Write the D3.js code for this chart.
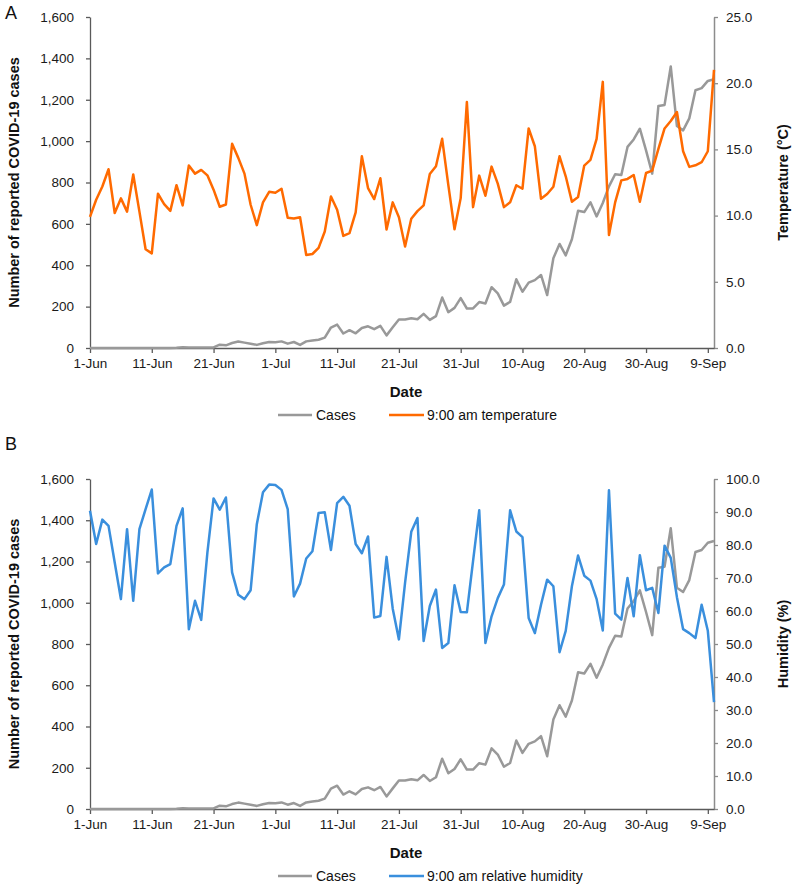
<!DOCTYPE html>
<html><head><meta charset="utf-8">
<script src="https://cdn.jsdelivr.net/npm/d3@7/dist/d3.min.js"></script>
<style>
html,body{margin:0;padding:0;background:#fff;}
svg{display:block;font-family:"Liberation Sans",Arial,sans-serif;}
</style></head>
<body>
<svg id="chart" width="795" height="886"></svg>
<script>
// ---------- DATA ----------
const startDate = new Date(2020, 5, 1);   // 1-Jun
const endDate = new Date(2020, 8, 10);    // 10-Sep
const tickLabels = ["1-Jun","11-Jun","21-Jun","1-Jul","11-Jul","21-Jul","31-Jul","10-Aug","20-Aug","30-Aug","9-Sep"];

const cases = [0,0,0,0,0,0,0,0,0,0,0,0,0,0,1,4,3,2,2,3,
  3,16,13,24,31,26,21,15,23,29,28,32,21,29,15,32,36,40,50,99,
  113,70,86,71,97,105,91,107,61,100,138,138,144,139,165,136,154,244,173,194,
  241,191,191,222,215,294,264,205,223,332,272,316,328,353,256,434,503,448,526,663,
  657,704,636,701,781,840,836,972,1008,1060,955,843,1170,1175,1361,1073,1052,1110,1246,1256,
  1291,1299];

const temperature = [9.9,11.2,12.2,13.5,10.2,11.3,10.3,13.1,10.3,7.46,
  7.15,11.65,10.87,10.36,12.3,10.77,13.78,13.17,13.45,13.04,
  11.96,10.67,10.84,15.42,14.36,13.17,10.82,9.28,11.0,11.8,
  11.73,12.03,9.83,9.78,9.88,7.03,7.1,7.56,8.8,11.45,
  10.44,8.47,8.67,10.24,14.48,12.08,11.25,12.82,8.95,11.0,
  9.88,7.66,9.76,10.34,10.77,13.14,13.73,15.8,12.3,8.97,
  11.32,18.58,10.64,13.02,11.5,13.7,12.41,10.64,11.0,12.29,
  12.03,16.58,15.24,11.27,11.63,12.18,14.48,12.97,11.05,11.4,
  13.78,14.21,15.8,20.1,8.54,11.0,12.66,12.77,13.07,11.05,
  13.22,13.4,15.04,16.58,17.14,17.82,14.86,13.68,13.8,14.03,
  14.86,21.0];

const humidity = [90.4,80.3,87.7,85.8,74.7,63.6,84.8,63.1,84.8,90.9,
  96.8,71.4,73.2,74.2,85.8,91.1,54.5,63.1,57.3,77.7,
  94.1,90.7,94.4,71.7,64.9,63.6,66.3,86.3,96.0,98.3,
  98.2,96.7,90.9,64.4,68.3,75.9,78.1,89.7,89.9,78.5,
  92.7,94.6,91.9,80.3,77.5,82.6,58.0,58.5,76.4,60.7,
  51.4,68.6,84.0,88.2,50.9,61.5,66.5,48.8,50.3,67.8,
  59.7,59.6,75.1,90.5,50.3,58.4,63.9,68.0,90.5,84.1,
  82.4,57.9,53.3,61.9,69.5,67.5,47.5,54.0,67.5,76.8,
  70.7,69.2,63.6,54.1,96.6,59.2,57.4,70.0,58.4,76.9,
  66.3,67.0,59.4,79.8,76.1,64.2,54.5,53.3,51.8,61.9,
  54.0,32.4];

const casesTicks = [0,200,400,600,800,1000,1200,1400,1600];
const tempTicks = [0,5,10,15,20,25];
const humTicks = [0,10,20,30,40,50,60,70,80,90,100];

// ---------- CHART ----------
const dates = d3.timeDay.range(startDate, d3.timeDay.offset(endDate, 1));
const tickDates = tickLabels.map((_, i) => d3.timeDay.offset(startDate, i * 10));

const svg = d3.select("#chart");
const FONT = '"Liberation Sans",Arial,sans-serif';

const panels = [
  { label: "A", top: 17, bottom: 348, right: temperature, rMax: 25, rTicks: tempTicks,
    rColor: "#FF6A00", rTitle: "Temperature (\u00B0C)", legend: "9:00 am temperature", labelY: 19 },
  { label: "B", top: 479, bottom: 809, right: humidity, rMax: 100, rTicks: humTicks,
    rColor: "#3A8FDD", rTitle: "Humidity (%)", legend: "9:00 am relative humidity", labelY: 450 }
];

const x = d3.scaleTime().domain([startDate, endDate]).range([90, 714]);

panels.forEach(p => {
  const g = svg.append("g");
  const y = d3.scaleLinear().domain([0, 1600]).range([p.bottom, p.top]);
  const y2 = d3.scaleLinear().domain([0, p.rMax]).range([p.bottom, p.top]);

  // left axis
  const la = g.append("g").attr("transform", "translate(90,0)")
    .call(d3.axisLeft(y).tickValues(casesTicks).tickFormat(d3.format(",")).tickSize(4).tickPadding(12).tickSizeOuter(0));
  la.select(".domain").attr("stroke", "#5a5a5a").attr("stroke-width", 1.3);
  la.selectAll(".tick line").attr("stroke", "#5a5a5a").attr("stroke-width", 1.3);
  la.selectAll("text").attr("font-size", "13.5px").attr("font-family", FONT).attr("fill", "#1a1a1a");

  // right axis
  const ra = g.append("g").attr("transform", "translate(714,0)")
    .call(d3.axisRight(y2).tickValues(p.rTicks).tickFormat(d3.format(".1f")).tickSize(4).tickPadding(8).tickSizeOuter(0));
  ra.select(".domain").attr("stroke", "#8c8c8c").attr("stroke-width", 1.5);
  ra.selectAll(".tick line").attr("stroke", "#8c8c8c").attr("stroke-width", 1.3);
  ra.selectAll("text").attr("font-size", "13.5px").attr("font-family", FONT).attr("fill", "#1a1a1a");

  // x axis
  const xa = g.append("g").attr("transform", `translate(0,${p.bottom})`)
    .call(d3.axisBottom(x).tickValues(tickDates).tickFormat((d, i) => tickLabels[i]).tickSize(5).tickPadding(5).tickSizeOuter(0));
  xa.select(".domain").attr("stroke", "#5a5a5a").attr("stroke-width", 1.3);
  xa.selectAll(".tick line").attr("stroke", "#5a5a5a").attr("stroke-width", 1.3);
  xa.selectAll("text").attr("font-size", "13.5px").attr("font-family", FONT).attr("fill", "#1a1a1a");

  // lines
  const lineCases = d3.line().x((d, i) => x(dates[i])).y(d => y(d));
  const lineRight = d3.line().x((d, i) => x(dates[i])).y(d => y2(d));
  g.append("path").datum(cases).attr("d", lineCases)
    .attr("fill", "none").attr("stroke", "#999999").attr("stroke-width", 2.5).attr("stroke-linejoin", "round");
  g.append("path").datum(p.right).attr("d", lineRight)
    .attr("fill", "none").attr("stroke", p.rColor).attr("stroke-width", 2.5).attr("stroke-linejoin", "round");

  // titles
  const midY = (p.top + p.bottom) / 2;
  g.append("text").attr("transform", `translate(19,${midY}) rotate(-90)`)
    .attr("text-anchor", "middle").attr("font-weight", "bold").attr("font-size", "14.5px")
    .attr("font-family", FONT).attr("fill", "#111").text("Number of reported COVID-19 cases");
  g.append("text").attr("transform", `translate(788,${midY}) rotate(-90)`)
    .attr("text-anchor", "middle").attr("font-weight", "bold").attr("font-size", "14.5px")
    .attr("font-family", FONT).attr("fill", "#111").text(p.rTitle);
  g.append("text").attr("x", 406).attr("y", p.bottom + 49)
    .attr("text-anchor", "middle").attr("font-weight", "bold").attr("font-size", "15px")
    .attr("font-family", FONT).attr("fill", "#111").text("Date");

  // panel label
  g.append("text").attr("x", 5).attr("y", p.labelY).attr("font-size", "18px")
    .attr("font-family", FONT).attr("fill", "#111").text(p.label);

  // legend
  const ly = p.bottom + 67;
  g.append("line").attr("x1", 278).attr("x2", 312).attr("y1", ly).attr("y2", ly)
    .attr("stroke", "#999999").attr("stroke-width", 2.5);
  g.append("text").attr("x", 316).attr("y", ly + 5).attr("font-size", "14px")
    .attr("font-family", FONT).attr("fill", "#111").text("Cases");
  g.append("line").attr("x1", 389).attr("x2", 424).attr("y1", ly).attr("y2", ly)
    .attr("stroke", p.rColor).attr("stroke-width", 2.5);
  g.append("text").attr("x", 427).attr("y", ly + 5).attr("font-size", "14px")
    .attr("font-family", FONT).attr("fill", "#111").text(p.legend);
});
</script>
</body></html>
